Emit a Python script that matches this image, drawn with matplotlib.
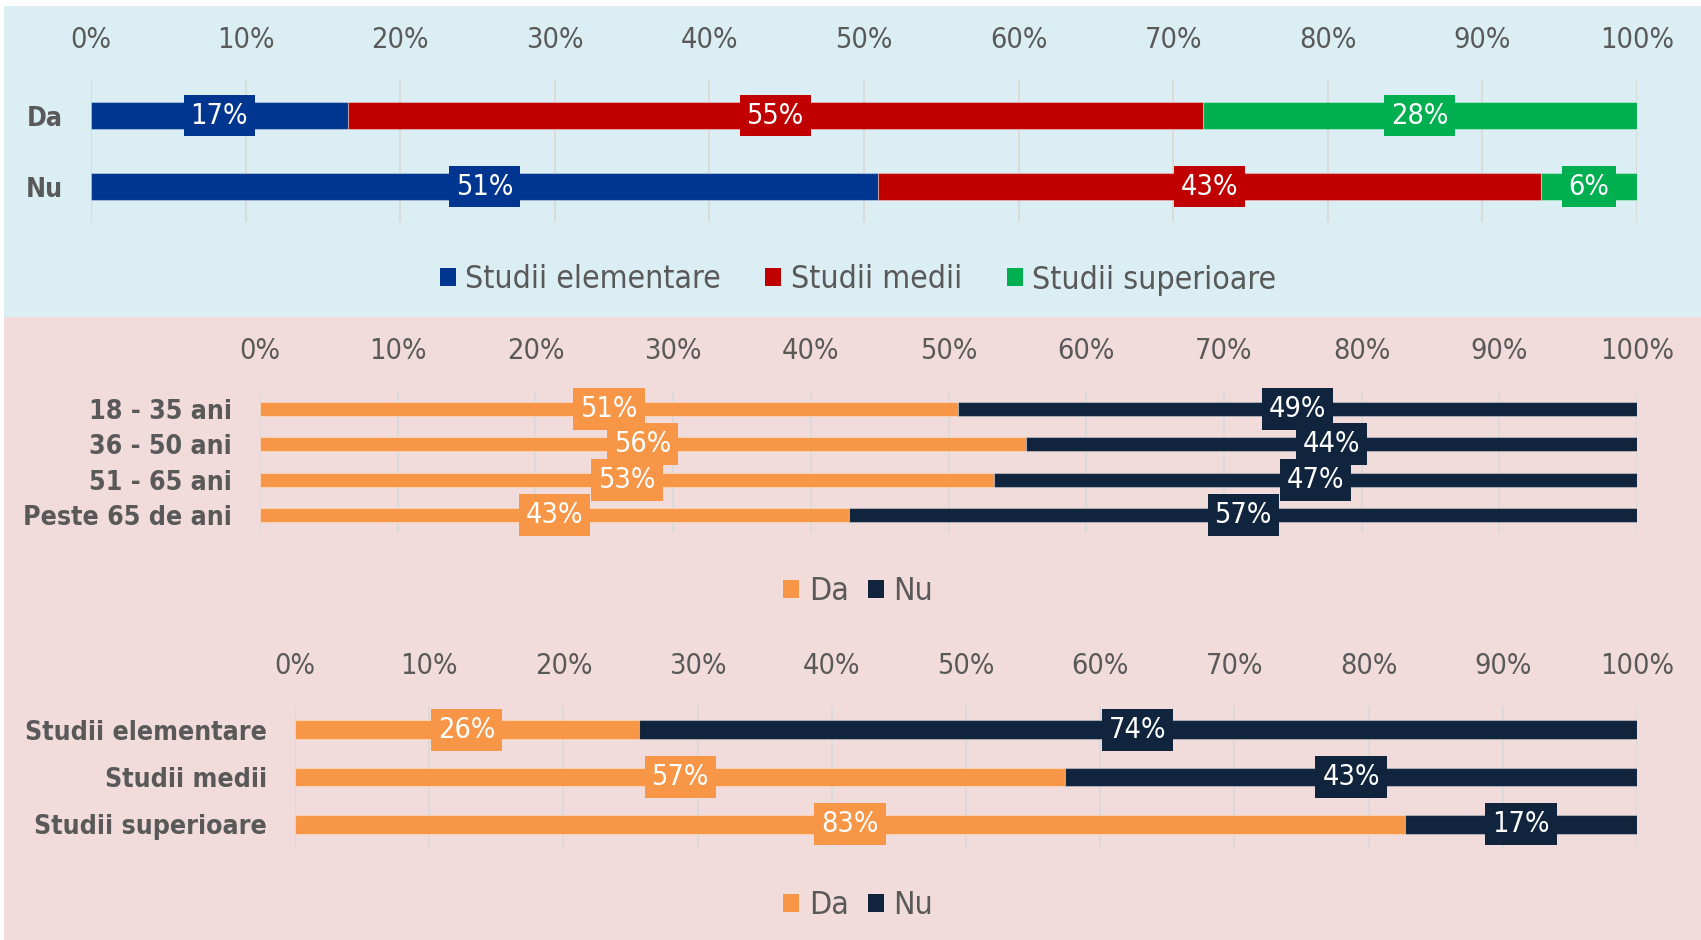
import numpy as np
import matplotlib
matplotlib.use('Agg')
import matplotlib.pyplot as plt
import matplotlib.font_manager as fm
from matplotlib.patches import Rectangle, Patch

# data
edu_cats = ['Da', 'Nu']
edu_series = ['Studii elementare', 'Studii medii', 'Studii superioare']
edu_elem = [16.6, 50.9]
edu_med = [55.3, 42.9]
edu_sup = [28.1, 6.2]

age_cats = ['18 - 35 ani', '36 - 50 ani', '51 - 65 ani', 'Peste 65 de ani']
age_da = [50.7, 55.6, 53.3, 42.8]
age_nu = [49.3, 44.4, 46.7, 57.2]

stud_cats = ['Studii elementare', 'Studii medii', 'Studii superioare']
stud_da = [25.6, 57.4, 82.7]
stud_nu = [74.4, 42.6, 17.3]

yn_series = ['Da', 'Nu']
ticks = list(range(0, 101, 10))

BLUE, RED, GREEN = '#00368F', '#C00000', '#00B050'
ORANGE, NAVY = '#F79646', '#10243E'
GREY = '#595959'

# the original uses a narrow humanist face; take a condensed one if there is one
fonts = fm.fontManager.ttflist
if any(f.name == 'DejaVu Sans' and 'Condensed' in f.fname for f in fonts):
    plt.rcParams['font.family'] = 'DejaVu Sans'
    plt.rcParams['font.stretch'] = 'condensed'
elif any(f.name == 'Liberation Sans Narrow' for f in fonts):
    plt.rcParams['font.family'] = 'Liberation Sans Narrow'
else:
    plt.rcParams['font.family'] = 'Liberation Sans'

W, H = 1701, 940
fig = plt.figure(figsize=(W / 100, H / 100), dpi=100)

# size the text so "Studii elementare" is about as wide as in the original
rend = fig.canvas.get_renderer()
probe = fig.text(0, 0, 'Studii elementare', fontsize=20, fontweight='bold')
w_bold = probe.get_window_extent(renderer=rend).width
probe.set_fontweight('normal')
w_reg = probe.get_window_extent(renderer=rend).width
probe.remove()
FS = min(23, 20 * 243 / w_bold)       # bold category labels
FS_LEG = min(26, 20 * 255 / w_reg)    # legend text
FS_NUM = FS * 1.08                    # percentages

fig.patches.append(Rectangle((4 / W, 1 - 317 / H), 1 - 4 / W, 311 / H,
                             transform=fig.transFigure, fc='#DBEEF4', ec='none', zorder=-5))
fig.patches.append(Rectangle((4 / W, 0), 1 - 4 / W, (H - 317) / H,
                             transform=fig.transFigure, fc='#F2DCDB', ec='none', zorder=-5))


def px_axes(left, top, right, bottom):
    return fig.add_axes([left / W, 1 - bottom / H, (right - left) / W, (bottom - top) / H])


def stacked(ax, cats, parts, colors, height):
    y = np.arange(len(cats))
    left = np.zeros(len(cats))
    for vals, col in zip(parts, colors):
        vals = np.array(vals, dtype=float)
        ax.barh(y, vals, left=left, height=height, color=col,
                edgecolor=(1, 1, 1, 0.35), lw=0.8, zorder=2)
        for yi, l, v in zip(y, left, vals):
            ax.text(l + v / 2, yi, f'{v:.0f}%', ha='center', va='center',
                    color='white', fontsize=FS_NUM, zorder=3,
                    bbox=dict(boxstyle='square,pad=0.24', fc=col, ec='none'))
        left += vals
    ax.set_facecolor('none')
    ax.set_xlim(0, 100)
    ax.set_ylim(len(cats) - 0.5, -0.5)
    ax.set_yticks(y, cats)
    ax.set_xticks(ticks, [f'{t}%' for t in ticks])
    ax.xaxis.tick_top()
    ax.tick_params(axis='x', length=0, pad=19, labelsize=FS_NUM, labelcolor=GREY)
    ax.tick_params(axis='y', length=0, pad=20, labelsize=FS, labelcolor=GREY)
    for lab in ax.get_yticklabels():
        lab.set_fontweight('bold')
    for s in ax.spines.values():
        s.set_visible(False)
    ax.grid(axis='x', color='#D9D9D9', lw=1.3, zorder=0)
    ax.set_axisbelow(True)


def legend(labels, colors, y_px, colspace):
    handles = [Patch(fc=c, ec='none') for c in colors]
    fig.legend(handles, labels, loc='center', bbox_to_anchor=(858 / W, 1 - y_px / H),
               ncol=len(labels), frameon=False, fontsize=FS_LEG, labelcolor=GREY,
               handlelength=0.5, handleheight=0.5, handletextpad=0.3,
               columnspacing=colspace, borderpad=0)


ax1 = px_axes(91, 80, 1637, 222)
stacked(ax1, edu_cats, [edu_elem, edu_med, edu_sup], [BLUE, RED, GREEN], 0.39)
legend(edu_series, [BLUE, RED, GREEN], 280, 1.4)

ax2 = px_axes(260, 391, 1637, 533)
stacked(ax2, age_cats, [age_da, age_nu], [ORANGE, NAVY], 0.4)
legend(yn_series, [ORANGE, NAVY], 592, 0.6)

ax3 = px_axes(295, 706, 1637, 848)
stacked(ax3, stud_cats, [stud_da, stud_nu], [ORANGE, NAVY], 0.4)
legend(yn_series, [ORANGE, NAVY], 906, 0.6)

fig.savefig('out.png', dpi=100, facecolor='white')
